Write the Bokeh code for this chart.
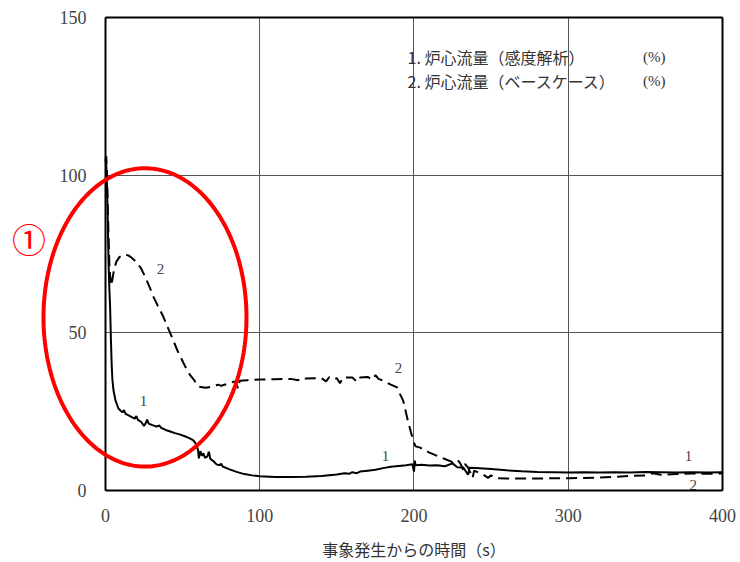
import numpy as np
from bokeh.plotting import figure
from bokeh.models import Range1d, FixedTicker, Label, PolyAnnotation, LinearAxis
from bokeh.core.properties import value
from bokeh.embed import file_html
from bokeh.resources import INLINE

# ---- data ----
t1 = [0, 0.5, 1.0, 1.5, 2.0, 2.5, 3.0, 3.5, 4.0, 4.5, 5.2, 6.5, 8.4, 10, 11, 12, 13, 15, 17, 19, 20, 21,
      23, 25, 26, 27, 28, 30, 33, 35, 36, 39, 42, 45, 48, 51, 54, 57, 59, 60, 60.5, 61.5, 62.5, 63.5,
      64.5, 66, 67, 68, 70, 72, 74, 75, 76, 80, 85, 90, 95, 100, 110, 120, 130, 140, 150, 155, 158,
      160, 163, 165, 170, 175, 180, 185, 190, 195, 199, 200, 200.5, 201, 205, 210, 215, 220, 225, 228,
      232, 235, 236, 240, 250, 260, 270, 280, 290, 300, 310, 320, 330, 340, 350, 360, 370, 380, 390, 400]
v1 = [105, 103, 96, 85, 72, 64, 58, 48, 40, 35, 31.7, 28.5, 26, 25.2, 24.8, 25.5, 24.3, 23.8, 23.3,
      22.8, 23.6, 22.4, 21.8, 20.5, 21.3, 22.5, 21.2, 20.8, 20.3, 20.6, 19.9, 19.2, 18.7, 18.2, 17.8,
      17.3, 16.7, 15.9, 14.5, 12.8, 10.2, 12.5, 11.0, 11.8, 10.3, 10.8, 12.3, 10.0, 9.3, 8.3, 8.0, 8.5,
      7.6, 6.8, 5.9, 5.2, 4.8, 4.5, 4.3, 4.3, 4.4, 4.6, 5.1, 5.5, 5.3, 5.8, 5.5, 6.0, 6.3, 6.6, 7.1,
      7.5, 7.8, 8.0, 8.3, 6.0, 9.5, 8.0, 8.2, 7.9, 8.0, 7.7, 8.6, 7.4, 7.3, 5.0, 7.2, 7.1, 6.8, 6.4,
      6.1, 5.9, 5.8, 5.7, 5.8, 5.7, 5.8, 5.7, 5.9, 5.8, 5.7, 5.8, 5.7, 5.8]

t2 = [0, 0.5, 1, 1.5, 2, 2.5, 3, 3.9, 4.5, 5.5, 7, 9, 11, 13, 15, 17, 20, 23, 26, 29, 31, 34, 37.6, 41,
      44, 47, 50, 53, 55, 57.5, 59.6, 61.6, 65, 70, 73, 75, 80, 84, 86, 87, 92, 100, 110, 120, 125,
      127, 130, 140, 143, 145, 148, 150, 152, 154, 160, 163, 165, 170, 173, 175, 177, 180, 185, 189,
      191, 193, 196, 198, 200, 201, 204, 207, 210, 215, 220, 225, 228, 230, 232, 233, 235, 238, 239,
      245, 248, 250, 254, 260, 270, 280, 290, 300, 310, 320, 330, 340, 350, 355, 360, 370, 380, 390, 400]
v2 = [105, 106, 100, 90, 80, 72, 68, 65, 67, 70, 72.5, 74, 74.6, 74.8, 74.5, 73.8, 72.5, 70.5, 67.5,
      64, 61.5, 58.5, 55, 51, 47.5, 44, 41, 38, 36.5, 35, 33.3, 32.8, 32.6, 33.0, 33.6, 33.2, 34.0,
      34.6, 32.3, 34.8, 35.0, 35.2, 35.3, 35.4, 35.0, 35.6, 35.5, 35.6, 34.6, 35.9, 35.3, 35.6, 34.0,
      35.8, 35.8, 34.5, 35.8, 36.0, 35.2, 36.6, 35.4, 34.8, 33.6, 32.7, 30.5, 28.5, 22.2, 18.5, 15.2,
      14.0, 13.6, 12.8, 12.0, 11.0, 10.0, 9.0, 9.8, 8.6, 6.5, 8.4, 7.3, 4.0, 6.3, 5.0, 4.0, 4.8, 3.9,
      3.8, 3.8, 3.8, 3.9, 3.9, 4.0, 4.1, 4.3, 4.6, 4.8, 5.5, 5.0, 5.2, 5.4, 5.3, 5.4]

x_ticks = [0, 100, 200, 300, 400]
y_ticks = [0, 50, 100, 150]
legend_lines = ["1. 炉心流量（感度解析）", "2. 炉心流量（ベースケース）"]
legend_units = ["(%)", "(%)"]
x_label = "事象発生からの時間（s）"

SERIF = "Liberation Serif"
CJK = "Noto Sans CJK JP"
# view extends past the data box so that outside texts and the red mark are not clipped
X_VIEW = (-68.07, 411.67)
Y_VIEW = (-22.83, 155.39)

p = figure(width=740, height=562, output_backend="svg", toolbar_location=None,
           x_range=Range1d(*X_VIEW), y_range=Range1d(*Y_VIEW),
           min_border_left=0, min_border_right=0, min_border_top=0, min_border_bottom=0)
p.background_fill_color = "white"
p.border_fill_color = "white"
p.outline_line_color = None

# bottom axis at value 0
xa = p.xaxis[0]
xa.fixed_location = 0
xa.bounds = (0, 400)
xa.ticker = FixedTicker(ticks=x_ticks)
xa.axis_line_color = "black"
xa.axis_line_width = 2
xa.major_tick_line_color = None
xa.minor_tick_line_color = None
xa.major_label_text_font = SERIF
xa.major_label_text_font_size = "18px"
xa.major_label_text_color = "#444444"
xa.major_label_standoff = 12

# left axis at t = 0
ya = p.yaxis[0]
ya.fixed_location = 0
ya.bounds = (0, 150)
ya.ticker = FixedTicker(ticks=y_ticks)
ya.axis_line_color = "black"
ya.axis_line_width = 2
ya.major_tick_line_color = None
ya.minor_tick_line_color = None
ya.major_label_text_font = SERIF
ya.major_label_text_font_size = "18px"
ya.major_label_text_color = "#444444"
ya.major_label_standoff = 13

# top and right frame borders
top = LinearAxis(fixed_location=150, bounds=(0, 400), ticker=FixedTicker(ticks=[]),
                 axis_line_color="black", axis_line_width=2,
                 major_tick_line_color=None, minor_tick_line_color=None)
right = LinearAxis(fixed_location=400, bounds=(0, 150), ticker=FixedTicker(ticks=[]),
                   axis_line_color="black", axis_line_width=2,
                   major_tick_line_color=None, minor_tick_line_color=None)
p.add_layout(top, "above")
p.add_layout(right, "right")

p.xgrid.ticker = FixedTicker(ticks=x_ticks)
p.ygrid.ticker = FixedTicker(ticks=y_ticks)
p.xgrid.grid_line_color = "#555555"
p.ygrid.grid_line_color = "#555555"
p.xgrid.grid_line_width = 1
p.ygrid.grid_line_width = 1
p.xgrid.bounds = (0, 400)
p.ygrid.bounds = (0, 150)
p.xgrid.cross_bounds = (0, 150)
p.ygrid.cross_bounds = (0, 400)

p.line(t1, v1, line_color="black", line_width=2)
p.line(t2, v2, line_color="black", line_width=2, line_dash="11 6")

# x axis title, centred under the data box
p.add_layout(Label(x=200, y=-18.6, text=x_label, text_font=CJK, text_font_size="16px",
                   text_color="#333333", text_align="center", text_baseline="middle"))

# curve labels
lab_x = [35.7, 24.6, 190, 181.5, 378, 381]
lab_y = [70.4, 28.5, 38.7, 11.1, 11.1, 1.6]
lab_t = ["2", "1", "2", "1", "1", "2"]
p.text(lab_x, lab_y, text=lab_t, text_font=value(SERIF), text_font_size="15px",
       text_color="#444444", text_align="center", text_baseline="middle")

# legend texts
p.text([195.8, 195.8], [137.6, 130.0], text=legend_lines, text_font=value(CJK), text_font_size="16px",
       text_color="#333333", text_align="left", text_baseline="middle")
p.text([348.5, 348.5], [137.6, 130.0], text=legend_units, text_font=value(SERIF),
       text_font_size="15px", text_color="#333333", text_align="left", text_baseline="middle")

# red annotation ellipse and circled number
cx, cy, rx, ry = 25.6, 54.9, 65.8, 47.3
th = np.linspace(0, 2 * np.pi, 240)
p.add_layout(PolyAnnotation(xs=list(cx + rx * np.cos(th)), ys=list(cy + ry * np.sin(th)),
                            fill_color=None, fill_alpha=0, line_color="#ff0000", line_alpha=1,
                            line_width=4))
p.add_layout(Label(x=-49.6, y=79.9, text="①", text_font=CJK, text_font_size="34px",
                   text_color="#ff0000", text_align="center", text_baseline="middle"))

open("out.html", "w").write(file_html(p, INLINE))
